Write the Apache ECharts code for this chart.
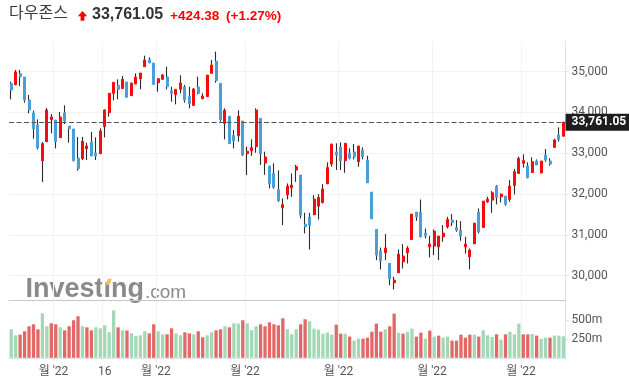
<!DOCTYPE html>
<html><head><meta charset="utf-8">
<script src="https://cdn.jsdelivr.net/npm/echarts@6/dist/echarts.min.js"></script>
<style>html,body{margin:0;padding:0;background:#fff}#c{width:629px;height:383px}</style>
</head><body><div id="c"></div>
<script>
// ---- data ----
const titleName = '다우존스';
const lastPrice = 33761.05;
const priceChange = 424.38;
const priceChangePct = 1.27;

const opens = [34715,34682,34952,34870,34306,33987,33693,32819,33285,33824,33816,33383,33987,33669,33595,32884,32868,33113,33277,33007,32991,33652,33996,34470,34666,34584,34748,34413,34699,34829,35123,35295,35213,34731,34813,34870,34535,34445,34568,34625,34404,34176,34625,34339,34388,34960,35254,34715,33734,33906,33440,33432,33791,32991,33064,33162,33857,32762,32688,32509,32114,31665,31984,32155,32591,32468,31265,31436,31493,31706,31796,32253,32737,33032,33154,32819,33007,33032,32794,33081,32835,32049,31134,30611,30562,30301,29827,30072,30341,30562,30889,31559,31559,31044,30709,30725,30709,30954,31199,31363,31183,31118,30709,30464,30783,31559,31183,31812,31853,32188,31935,31951,31869,32212,32507,32754,32688,32530,32811,32520,32958,32811,33146,33448,33420];
const closes = [34552,34993,34878,34306,34061,33603,33138,33236,34061,33890,33285,33890,33791,33603,32819,32623,33293,33178,32934,32934,33546,34061,34470,34739,34568,34813,34372,34715,34870,34968,35287,35221,34690,34829,34919,34633,34470,34568,34723,34306,34216,34576,34470,34404,34919,35164,34780,33816,34053,33236,33309,33906,32958,33048,33138,34061,32991,32909,32253,32163,31837,31739,32196,32221,32672,31485,31199,31240,31877,31918,32123,32648,33219,32958,32819,33244,32884,32909,33178,32917,32278,31395,30505,30366,30676,29925,29892,30529,30480,30676,31510,31444,30954,30979,30775,31093,30971,31044,31379,31297,31118,30971,30775,30627,31289,31077,31828,31877,32033,31918,32000,31755,32196,32550,32876,32819,32403,32794,32713,32811,32835,32737,33326,33342,33761.05];
const lows = [34323,34666,34650,34241,33979,33358,33097,32297,33285,33489,33121,33383,33718,33260,32803,32574,32835,32835,32934,32835,32991,33391,33898,34298,34323,34584,34372,34404,34699,34568,35123,35205,34690,34511,34813,34568,34266,34200,34470,34241,34102,34159,34445,34323,34388,34960,34731,33775,33342,33236,33121,33285,32934,32466,32934,33015,32713,32474,32139,32131,31812,31240,31869,31935,32302,31404,31036,30644,31493,31379,31771,32245,32672,32591,32591,32523,32851,32851,32672,32851,32278,31395,30382,30154,30382,29770,29663,30072,30178,30301,30873,31346,30938,30913,30448,30505,30382,30832,31158,31216,31077,30856,30546,30154,30783,31036,31183,31788,31542,31747,31796,31714,31812,31992,32500,32648,32386,32525,32713,32509,32794,32697,33146,33285,33410];
const highs = [34756,35042,35042,34870,34429,34045,33832,33277,34110,33963,33816,34012,34176,33669,33595,33399,33399,33260,33522,33391,33611,34078,34470,34739,34813,34895,34748,34739,34960,34968,35393,35352,35213,34829,34944,35123,34633,34568,34911,34674,34633,34601,34878,34470,34919,35287,35491,34715,34102,33906,33571,34053,33791,33162,33342,34102,33857,33040,32688,32754,32582,31894,32261,32507,32713,32468,31542,31542,31975,32000,32245,32778,33244,33244,33268,33244,33121,33228,33178,33146,32942,32049,31134,30693,31020,30301,29974,30644,30775,30725,31510,31559,31869,31158,30979,31134,30971,31240,31444,31510,31363,31338,30954,30668,31289,31649,31828,31935,32074,32221,32016,31951,32343,32615,32917,32975,32778,32901,32851,32811,33105,32876,33358,33636,33775];
// volume in millions
const volumes = [375,296,305,349,415,441,375,586,415,454,441,401,362,415,494,546,415,401,362,401,388,428,336,625,401,362,358,322,287,296,349,322,441,349,309,309,388,322,296,336,322,309,349,270,296,336,362,375,415,401,454,450,494,454,362,415,441,415,467,441,428,520,375,309,375,441,507,480,384,371,318,331,305,436,318,318,279,226,252,252,265,344,450,344,375,415,581,331,318,344,384,279,331,252,358,279,292,265,279,226,226,305,265,305,305,279,362,296,274,309,239,309,345,309,450,309,309,314,292,248,265,265,292,292,282];

const priceTicks = [30000,31000,32000,33000,34000,35000];
const volumeTicks = [250,500];
const xLabelIndex = [10,21,33,53,74,95,115];
const xLabelText = ["월 '22","16","월 '22","월 '22","월 '22","월 '22","월 '22"];

// ---- helpers ----
function fmt(v, d) {
  const s = v.toFixed(d);
  const parts = s.split('.');
  parts[0] = parts[0].replace(/\B(?=(\d{3})+(?!\d))/g, ',');
  return parts.join('.');
}
const UP = '#f50c0c', DOWN = '#4b9fd9', WICK = '#2b2b2b';
const VOL_UP = '#a3d8b4', VOL_DOWN = '#e26868';
const AXIS = '#dfe2e8', GRIDC = '#f2f2f2', TXT = '#555';

const cats = opens.map((_, i) => String(i));
const wickData = opens.map((o, i) => [o, closes[i], lows[i], highs[i]]);
const bodyData = opens.map((o, i) => [o, closes[i], Math.min(o, closes[i]), Math.max(o, closes[i])]);
const volData = volumes.map((v, i) => ({
  value: v,
  itemStyle: { color: (i === 0 || closes[i] >= closes[i - 1]) ? VOL_UP : VOL_DOWN }
}));
const labelSet = new Set(xLabelIndex);
const isMark = (i) => labelSet.has(i);

const chart = echarts.init(document.getElementById('c'), null, { renderer: 'canvas' });
const gridLeft = 9, gridRight = 63.4;

chart.setOption({
  animation: false,
  backgroundColor: '#fff',
  grid: [
    { left: gridLeft, right: gridRight, top: 41.5, height: 258.7 },
    { left: gridLeft, right: gridRight, top: 300.2, height: 57.6 }
  ],
  xAxis: [
    {
      type: 'category', gridIndex: 0, data: cats, boundaryGap: true,
      axisLine: { show: true, lineStyle: { color: '#c8c8c8', width: 1 } },
      axisTick: { show: false }, axisLabel: { show: false },
      splitLine: { show: true, interval: isMark, lineStyle: { color: GRIDC, width: 1 } }
    },
    {
      type: 'category', gridIndex: 1, data: cats, boundaryGap: true,
      axisLine: { show: true, lineStyle: { color: AXIS, width: 1 } },
      axisTick: { show: true, interval: isMark, length: 3, lineStyle: { color: AXIS } },
      axisLabel: {
        show: true, interval: isMark, margin: 8,
        formatter: (v) => {
          const k = xLabelIndex.indexOf(Number(v));
          if (k < 0) return '';
          const t = xLabelText[k];
          return t === '16' ? '{n|' + t + '}' : '{m|' + t + '}';
        },
        rich: {
          m: { color: TXT, fontSize: 12, fontFamily: 'Roboto, "Noto Sans CJK KR", sans-serif', padding: [0, 4.5, 0, 0] },
          n: { color: TXT, fontSize: 12, fontFamily: 'Roboto, "Noto Sans CJK KR", sans-serif' }
        }
      },
      splitLine: { show: true, interval: isMark, lineStyle: { color: GRIDC, width: 1 } }
    }
  ],
  yAxis: [
    {
      type: 'value', gridIndex: 0, position: 'right', min: 29400, max: 35740, scale: true,
      axisLine: { show: true, lineStyle: { color: AXIS } },
      axisTick: { show: true, length: 3, customValues: priceTicks, lineStyle: { color: AXIS } },
      axisLabel: {
        show: true, customValues: priceTicks, margin: 6, color: TXT, fontSize: 12,
        fontFamily: 'Roboto, sans-serif', formatter: (v) => fmt(v, 0)
      },
      splitLine: { show: false }
    },
    {
      type: 'value', gridIndex: 1, position: 'right', min: 0, max: 758,
      axisLine: { show: true, lineStyle: { color: AXIS } },
      axisTick: { show: true, length: 3, customValues: volumeTicks, lineStyle: { color: AXIS } },
      axisLabel: {
        show: true, customValues: volumeTicks, margin: 6, color: TXT, fontSize: 12,
        fontFamily: 'Roboto, sans-serif', formatter: (v) => v + 'm'
      },
      splitLine: { show: false }
    }
  ],
  series: [
    {
      name: 'grid', type: 'line', xAxisIndex: 0, yAxisIndex: 0, data: [], z: 0, silent: true,
      markLine: {
        silent: true, symbol: ['none', 'none'], animation: false, z: 0,
        label: { show: false },
        lineStyle: { type: 'solid', color: GRIDC, width: 1 },
        data: priceTicks.map(v => ({ yAxis: v }))
      }
    },
    {
      name: 'wick', type: 'candlestick', xAxisIndex: 0, yAxisIndex: 0,
      data: wickData, barWidth: 1, silent: true,
      itemStyle: { color: WICK, color0: WICK, borderColor: WICK, borderColor0: WICK, borderWidth: 1.1 }
    },
    {
      name: 'body', type: 'candlestick', xAxisIndex: 0, yAxisIndex: 0,
      data: bodyData, barWidth: 2.5, silent: true,
      itemStyle: { color: UP, color0: DOWN, borderColor: UP, borderColor0: DOWN, borderWidth: 1 },
      markLine: {
        silent: true, symbol: ['none', 'none'], animation: false,
        lineStyle: { type: [5, 2.5], color: '#555', width: 1 },
        label: {
          show: true, position: 'end', distance: 0,
          formatter: fmt(lastPrice, 2),
          backgroundColor: '#1e1e1e', color: '#fff', fontWeight: 'bold',
          fontSize: 12, fontFamily: 'Roboto, sans-serif', padding: [3, 3, 2, 6]
        },
        data: [{ yAxis: lastPrice }]
      }
    },
    {
      name: 'volume', type: 'bar', xAxisIndex: 1, yAxisIndex: 1,
      data: volData, barWidth: 3.3, silent: true
    }
  ],
  graphic: [
    { type: 'text', left: 9, top: 4, z: 10,
      style: { text: titleName, fill: '#3a3a3a', font: '16px "Noto Sans CJK KR", sans-serif' } },
    { type: 'polygon', z: 10, shape: { points: [[77.8, 16.2], [82.5, 11], [87.2, 16.2]] }, style: { fill: '#f00' } },
    { type: 'rect', z: 10, shape: { x: 80.6, y: 15.8, width: 3.8, height: 4.9 }, style: { fill: '#f00' } },
    { type: 'text', left: 92, top: 7, z: 10,
      style: { text: fmt(lastPrice, 2), fill: '#333', font: 'bold 16px "Liberation Sans", Arial, sans-serif' } },
    { type: 'text', left: 170, top: 9, z: 10,
      style: { text: '+' + fmt(priceChange, 2), fill: '#f00', font: 'bold 13.5px "Liberation Sans", Arial, sans-serif' } },
    { type: 'text', left: 226, top: 9, z: 10,
      style: { text: '(+' + priceChangePct.toFixed(2) + '%)', fill: '#f00', font: 'bold 13.5px "Liberation Sans", Arial, sans-serif' } },
    { type: 'text', z: -1, x: 25.5, y: 290, silent: true,
      style: { text: 'Investıng', fill: '#8a8a8a', font: 'bold 27px "Liberation Sans", Arial, sans-serif', verticalAlign: 'middle' } },
    { type: 'text', z: -1, x: 145, y: 292.5, silent: true,
      style: { text: '.com', fill: '#8a8a8a', font: '19px "Liberation Sans", Arial, sans-serif', verticalAlign: 'middle' } },
    { type: 'polygon', z: -1, silent: true,
      shape: { points: [[105.7, 284.7], [107.7, 278.7], [111.7, 278.7], [109.7, 284.7]] },
      style: { fill: '#f6c063' } }
  ]
});
</script>
</body></html>
